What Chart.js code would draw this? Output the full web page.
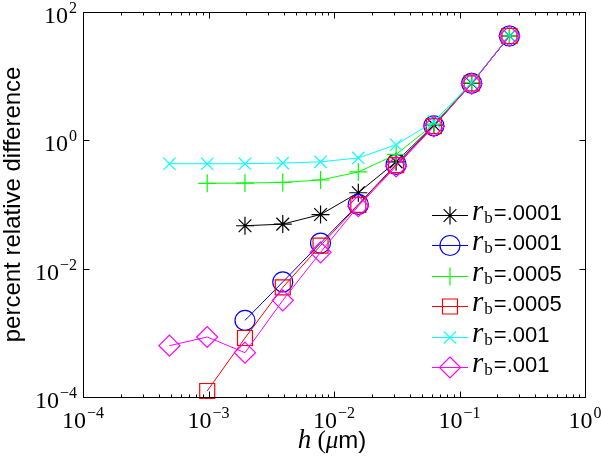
<!DOCTYPE html>
<html><head><meta charset="utf-8">
<script src="https://cdn.jsdelivr.net/npm/chart.js@4"></script>
<style>html,body{margin:0;padding:0;background:#fff}</style>
</head><body>
<canvas id="c" width="601" height="464"></canvas>
<script>
// ---- data ----
const hValues = [0.00048828125, 0.0009765625, 0.001953125, 0.00390625, 0.0078125, 0.015625, 0.03125, 0.0625, 0.125, 0.25];
const rbLabels = ['.0001', '.0001', '.0005', '.0005', '.001', '.001'];
const starSeries    = [null, null, 0.0465, 0.0493, 0.0695, 0.152, 0.46, 1.72, 7.7, 42];
const circleSeries  = [null, null, 0.00156, 0.0062, 0.025, 0.100, 0.42, 1.68, 7.7, 42];
const plusSeries    = [null, 0.213, 0.215, 0.22, 0.24, 0.32, 0.60, 1.78, 7.8, 42];
const squareSeries  = [null, 0.000124, 0.00083, 0.0051, 0.0228, 0.098, 0.41, 1.66, 7.7, 42];
const xSeries       = [0.43, 0.43, 0.43, 0.44, 0.46, 0.53, 0.85, 1.95, 7.9, 42];
const diamondSeries = [0.00063, 0.00086, 0.00049, 0.0032, 0.0179, 0.094, 0.39, 1.64, 7.6, 42];
const xTickExponents = [-4, -3, -2, -1, 0];
const yTickExponents = [-4, -2, 0, 2];
const xTitle = ['h', ' (', 'μ', 'm)'];
const yTitle = 'percent relative difference';

const styles = [
  {color: '#000000', style: 'star', r: 9},
  {color: '#0000ff', style: 'circle', r: 10},
  {color: '#00ff00', style: 'cross', r: 9},
  {color: '#ff0000', style: 'rect', r: 10.6},
  {color: '#00ffff', style: 'crossRot', r: 8.7},
  {color: '#ff00ff', style: 'rectRot', r: 10.5}
];
const allSeries = [starSeries, circleSeries, plusSeries, squareSeries, xSeries, diamondSeries];

function toPoints(vals) {
  const out = [];
  vals.forEach((v, i) => { if (v !== null) out.push({x: hValues[i], y: v}); });
  return out;
}

const datasets = allSeries.map((s, i) => ({
  label: 'rb=' + rbLabels[i],
  data: toPoints(s),
  borderColor: styles[i].color,
  backgroundColor: 'rgba(0,0,0,0)',
  borderWidth: 1,
  pointStyle: styles[i].style,
  pointRadius: styles[i].r,
  pointBorderWidth: 1.2,
  pointBorderColor: styles[i].color,
  pointBackgroundColor: 'rgba(0,0,0,0)',
  tension: 0,
  clip: false,
  order: 6 - i
}));

function drawMarker(ctx, style, x, y, r) {
  ctx.beginPath();
  const d = r * Math.SQRT1_2;
  if (style === 'circle') { ctx.arc(x, y, r, 0, Math.PI * 2); }
  else if (style === 'rect') { ctx.rect(x - d, y - d, 2 * d, 2 * d); }
  else if (style === 'rectRot') { ctx.moveTo(x, y - r); ctx.lineTo(x + r, y); ctx.lineTo(x, y + r); ctx.lineTo(x - r, y); ctx.closePath(); }
  else {
    if (style === 'cross' || style === 'star') { ctx.moveTo(x, y - r); ctx.lineTo(x, y + r); ctx.moveTo(x - r, y); ctx.lineTo(x + r, y); }
    if (style === 'crossRot' || style === 'star') { ctx.moveTo(x - d, y - d); ctx.lineTo(x + d, y + d); ctx.moveTo(x + d, y - d); ctx.lineTo(x - d, y + d); }
  }
  ctx.stroke();
}

const SERIF = '"Liberation Serif", "DejaVu Serif", serif';
const SANS = '"Liberation Sans", Arial, sans-serif';

function powLabel(ctx, e) {
  const base = '10', ex = (e < 0 ? '\u2212' : '') + Math.abs(e);
  ctx.font = '24px ' + SERIF; const wb = ctx.measureText(base).width;
  ctx.font = '16px ' + SERIF; const we = ctx.measureText(ex).width;
  return {base, ex, wb, we, w: wb + we + 1};
}
function drawPow(ctx, e, xLeft, baseY) {
  const p = powLabel(ctx, e);
  ctx.textAlign = 'left'; ctx.textBaseline = 'alphabetic';
  ctx.font = '24px ' + SERIF; ctx.fillText(p.base, xLeft, baseY);
  ctx.font = '16px ' + SERIF; ctx.fillText(p.ex, xLeft + p.wb + 1, baseY - 10);
}

const decor = {
  id: 'decor',
  afterDraw(chart) {
    const ctx = chart.ctx, a = chart.chartArea;
    const xs = chart.scales.x, ys = chart.scales.y;
    ctx.save();
    ctx.strokeStyle = '#000'; ctx.fillStyle = '#000'; ctx.lineWidth = 1;
    const L = Math.round(a.left) + 0.5, R = Math.round(a.right) + 0.5, T = Math.round(a.top) + 0.5, B = Math.round(a.bottom) + 0.5;
    ctx.strokeRect(L, T, R - L, B - T);
    // x ticks
    ctx.beginPath();
    for (let e = xTickExponents[0]; e < xTickExponents[xTickExponents.length - 1] + 1; e++) {
      for (let k = 1; k <= 9; k++) {
        const v = k * Math.pow(10, e);
        if (v > 1.0000001) continue;
        const px = Math.round(xs.getPixelForValue(v)) + 0.5;
        const len = k === 1 ? 6 : 3;
        ctx.moveTo(px, B); ctx.lineTo(px, B - len);
        ctx.moveTo(px, T); ctx.lineTo(px, T + len);
      }
    }
    yTickExponents.forEach(e => {
      const py = Math.round(ys.getPixelForValue(Math.pow(10, e))) + 0.5;
      ctx.moveTo(L, py); ctx.lineTo(L + 6, py);
      ctx.moveTo(R, py); ctx.lineTo(R - 6, py);
    });
    ctx.stroke();
    // tick labels
    xTickExponents.forEach(e => {
      const px = xs.getPixelForValue(Math.pow(10, e));
      const p = powLabel(ctx, e);
      drawPow(ctx, e, px - p.w / 2, a.bottom + 31);
    });
    yTickExponents.forEach(e => {
      const py = ys.getPixelForValue(Math.pow(10, e));
      const p = powLabel(ctx, e);
      drawPow(ctx, e, a.left - 6 - p.w, py + 11);
    });
    // x title
    const parts = [
      {t: xTitle[0], f: 'italic 27px ' + SERIF},
      {t: xTitle[1], f: '25px ' + SERIF},
      {t: xTitle[2], f: 'italic 25px ' + SERIF},
      {t: xTitle[3], f: '24px ' + SANS}
    ];
    let tw = 0;
    parts.forEach(p => { ctx.font = p.f; p.w = ctx.measureText(p.t).width; tw += p.w; });
    let cx = (a.left + a.right) / 2 - tw / 2 - 2;
    ctx.textAlign = 'left'; ctx.textBaseline = 'alphabetic';
    parts.forEach(p => { ctx.font = p.f; ctx.fillText(p.t, cx, 448); cx += p.w; });
    // y title
    ctx.save();
    ctx.translate(20, (a.top + a.bottom) / 2);
    ctx.rotate(-Math.PI / 2);
    ctx.font = '24px ' + SANS; ctx.textAlign = 'center'; ctx.textBaseline = 'alphabetic';
    ctx.fillText(yTitle, 0, 0);
    ctx.restore();
    // legend
    const y0 = 215, dy = 30.4;
    datasets.forEach((ds, i) => {
      const y = y0 + dy * i;
      ctx.strokeStyle = styles[i].color; ctx.lineWidth = 1.2;
      ctx.beginPath(); ctx.moveTo(432, Math.round(y) + 0.5); ctx.lineTo(468, Math.round(y) + 0.5); ctx.stroke();
      drawMarker(ctx, styles[i].style, 450, Math.round(y) + 0.5, styles[i].r);
      ctx.fillStyle = '#000'; ctx.textAlign = 'left'; ctx.textBaseline = 'alphabetic';
      let tx = 472;
      ctx.font = 'italic 29px ' + SERIF; ctx.fillText('r', tx, y + 5); tx += ctx.measureText('r').width + 1;
      ctx.font = '17px ' + SERIF; ctx.fillText('b', tx, y + 8); tx += ctx.measureText('b').width + 1;
      ctx.font = '22px ' + SANS; ctx.fillText('=' + rbLabels[i], tx, y + 5);
    });
    ctx.restore();
  }
};

new Chart(document.getElementById('c'), {
  type: 'line',
  data: {datasets},
  options: {
    responsive: false,
    animation: false,
    layout: {padding: {left: 83, right: 16, top: 10, bottom: 67}},
    plugins: {legend: {display: false}, tooltip: {enabled: false}},
    scales: {
      x: {type: 'logarithmic', min: 1e-4, max: 1, display: false},
      y: {type: 'logarithmic', min: 1e-4, max: 100, display: false}
    }
  },
  plugins: [decor]
});
</script>
</body></html>
